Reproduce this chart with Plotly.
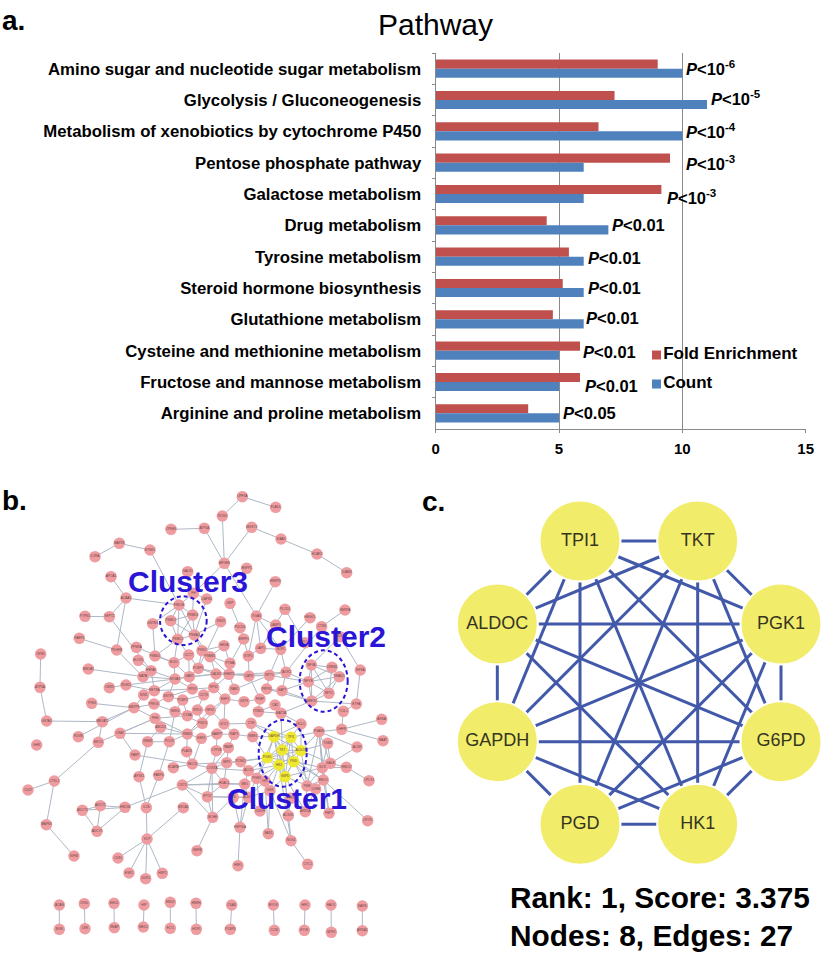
import plotly.graph_objects as go

# ---------- panel a ----------
PATHWAYS = ["Amino sugar and nucleotide sugar metabolism", "Glycolysis / Gluconeogenesis",
            "Metabolism of xenobiotics by cytochrome P450", "Pentose phosphate pathway",
            "Galactose metabolism", "Drug metabolism", "Tyrosine metabolism",
            "Steroid hormone biosynthesis", "Glutathione metabolism",
            "Cysteine and methionine metabolism", "Fructose and mannose metabolism",
            "Arginine and proline metabolism"]
FOLD_ENRICHMENT = [9.0, 7.25, 6.6, 9.5, 9.15, 4.5, 5.4, 5.15, 4.75, 5.85, 5.85, 3.75]
COUNT = [10, 11, 10, 6, 6, 7, 6, 6, 6, 5, 5, 5]
P_LABELS = ["10<sup>-6</sup>", "10<sup>-5</sup>", "10<sup>-4</sup>", "10<sup>-3</sup>", "10<sup>-3</sup>",
            "0.01", "0.01", "0.01", "0.01", "0.01", "0.01", "0.05"]
P_X = [10.08, 11.08, 10.08, 10.08, 9.28, 7.08, 6.08, 6.08, 6.03, 5.88, 5.98, 5.08]
P_SHIFT = [1, 2, 0, 0, -3, 0, -1, 0, 1, -1, -4, 0]
LEGEND_NAMES = ["Fold Enrichment", "Count"]

# ---------- panel c ----------
C_LABELS = ["TPI1", "TKT", "PGK1", "G6PD", "HK1", "PGD", "GAPDH", "ALDOC"]
C_X = [480, 833, 1083, 1083, 833, 480, 232, 232]
C_Y = [183, 183, 432, 785, 1033, 1033, 785, 432]
C_EDGES = [("TPI1", "TKT"), ("TKT", "PGK1"), ("PGK1", "G6PD"), ("G6PD", "HK1"), ("HK1", "PGD"),
           ("PGD", "GAPDH"), ("GAPDH", "ALDOC"), ("ALDOC", "TPI1"),
           ("TPI1", "PGK1"), ("TKT", "G6PD"), ("PGK1", "HK1"), ("G6PD", "PGD"), ("HK1", "GAPDH"),
           ("GAPDH", "TPI1"), ("ALDOC", "TKT"),
           ("TPI1", "G6PD"), ("TKT", "HK1"), ("PGK1", "PGD"), ("G6PD", "GAPDH"), ("HK1", "ALDOC"),
           ("PGD", "TPI1"), ("GAPDH", "TKT"), ("ALDOC", "PGK1"),
           ("TPI1", "HK1"), ("TKT", "PGD"), ("PGK1", "GAPDH"), ("G6PD", "ALDOC")]

# ---------- panel b: node layout ----------
OUTER_NODES = [("UPF3A",727,50),("FLAD1",827,82),("RCN3",667,108),("CPNE3",513,148),("ATP1A",613,145),
 ("MGST2",755,142),("KIAA1",843,177),("HCAR2",951,222),("ICAM4",1040,278),("MFGE8",673,250),("ENPP1",740,265),
 ("MAP2K",358,190),("ETNK1",450,210),("IL2RA",285,230),("GALK1",563,275),("APOA1",333,290),("HNRPD",826,305),
 ("ACAA1",378,354),("FH",580,340),("CAPN1",620,357),("GRP",690,370),("PTPN1",255,409),("SEPT2",328,410),
 ("ITGA6",769,408),("PLOD1",855,388),("HMGCL",930,413),("SNRPA",1035,390),("CTSS",965,440),("GSTM1",458,431),
 ("SNX3",662,425),("PDCD6",720,443),("LAMP1",827,435),("FABP5",238,475),("MYO1",915,488),("DDX1",1020,470)]
CORE_NODES = [("BRPF1",731,477),("HEXA",672,497),("UAP1",782,505),("NCF1",842,508),("PDGFB",350,510),("PPM1A",409,502),
 ("UPB1",122,522),("PSMD1",465,528),("ELOVL",415,541),("CCT7",566,525),("PKN2",606,512),("PSMB1",630,530),
 ("STIP1",745,528),("ELK1",522,548),("PTMA",690,550),("MBOAT",265,567),("HSPA5",453,572),("PCBP1",595,565),
 ("NAPA",429,590),("NOVA1",525,597),("GART",568,590),("CALM1",648,582),("SHMT2",687,583),("CAPZ",747,588),
 ("NPT1",808,586),("TAOK1",858,577),("EIF3A",1081,570),("RDH11",378,615),("ATP5A",120,622),("CBR3",328,623),
 ("RETSA",463,632),("RPS3",577,627),("RPS2",641,623),("RAB5",703,628),("PRPS1",800,627),("GAPT",846,632),
 ("NIN1",431,645),("GSTP1",505,650),("CCT8",611,645),("TPM4",275,670),("MBTPS",402,683),("PRKG1",462,672),
 ("PCBP2",548,660),("EEF1",675,657),("GSTK",732,665),("FKBP",780,657),("CA2",825,675),("ETFA",1069,672),
 ("NEK6",525,695),("RPL5",592,690),("NFS1",631,690),("TXNDC",775,695),("MAT2A",843,700),("TCIL1",1030,694),("CYBA",562,707)]
CLUSTER3_NODES = [("FNK2B",537,375),("PSMD4",578,405),("PSMC2",512,422),("PSMA3",583,465),("PSMC5",533,478)]
CLUSTER2_NODES = [("NFYA",934,555),("CREB1",996,562),("SMAD1",1018,590),("NFYB",925,605),("NFYC",987,640),("MEF2C",935,663)]
LOWER_Y_OFFSET = 690
LOWER_NODES = [("GSTA1",140,33),("MBOAT2",307,35),("PHB",465,25),("ARSA",1145,28),("GHR",110,105),("RUVB",235,80),
 ("CRAT",360,70),("ERO1",295,97),("ABCD3",482,52),("PGD3",607,40),("GOLT",672,42),("CTH",753,40),("GCLC",903,42),
 ("PGAM1",957,65),("DHFR",1025,58),("BAAT",1149,92),("RBM3",443,95),("POLR",508,95),("RBM4",562,72),("EEF2",604,85),
 ("NAMPT",651,72),("RAP1",702,73),("NME1",758,80),("TGM2",983,100),("ALDH",1071,111),("PARP",405,135),("PAMP",685,113),
 ("CYP2B",649,122),("PLA2G",560,125),("SEC11",577,162),("IMP1",680,158),("PCSK2",722,155),("SCARB",520,173),
 ("COX7A",636,175),("ACO1",745,182),("GCK",967,173),("GALE",991,160),("HSD17",1039,172),("CPLX1",1107,212),
 ("ENO1",970,210),("AP3S1",417,200),("FABP4",476,196),("PGM1",770,205),("GPI",795,213),("CTSL1",163,213),("CD47",84,240),
 ("CST3",547,225),("HDAC1",672,220),("ME1",734,222),("GSR",810,242),("PKM",921,228),("LDHB",947,237),("IFT57",622,260),
 ("ALDOA",745,262),("CS",700,262),("PFKP",872,265),("BRCA1",550,293),("ADCY2",301,287),("HSD3B",375,292),("ADCY3",247,301),
 ("IL1B",439,293),("BCHE",638,322),("UGDH",780,303),("ACSS1",865,317),("AKR1A",916,305),("FBP1",987,310),("DPYD",1103,332),
 ("MAPK8",139,344),("ADCY5",291,364),("HSP90A",720,352),("SAR1",805,371),("NOX4",873,392),("VCP",441,387),("KIFIB",222,438),
 ("CD81",354,444),("GMFB",591,422),("CYC1",923,463),("HSF1",714,467),("ESR1",387,489),("HSP2",487,490),("DDR1",437,506)]
YELLOW_NODES = [("GAPDH",822,80),("TPI1",873,82),("TKT",847,120),("ALDOC",903,122),("PGK1",802,143),("HK1",837,165),("PGD",881,155),("G6PD",855,200)]
PAIR_NODES = [("ACAN",178,585,"BGN",178,658),("CRKL",253,581,"CRK",255,656),("EHD1",342,580,"SNAP",343,653),
 ("HIP",432,585,"MED1",430,651),("HSD2",511,577,"FLT1",511,655),("HNRH",588,580,"HCF1",589,658),
 ("CSAD",695,585,"PCBP4",691,658),("MYO6",820,585,"CCNI",823,661),("HIF1",915,585,"ETV6",913,661),
 ("HAO1",993,585,"MTF2",994,667),("KARS",1087,588,"ARSA2",1087,662)]

OUTER_EDGES = """UPF3A-FLAD1 UPF3A-RCN3 RCN3-MFGE8 CPNE3-ATP1A ATP1A-MFGE8 MGST2-MFGE8 MGST2-KIAA1 KIAA1-HCAR2 HCAR2-ICAM4
MAP2K-ETNK1 MAP2K-IL2RA ETNK1-FNK2B APOA1-ACAA1 ACAA1-SEPT2 SEPT2-PTPN1 ACAA1-FNK2B ACAA1-PDGFB MFGE8-ITGA6 MFGE8-FH FH-CAPN1
HNRPD-ITGA6 ITGA6-UAP1 ITGA6-STIP1 ITGA6-NCF1 PLOD1-UAP1 PLOD1-MYO1 SNRPA-CTSS CTSS-TAOK1 HMGCL-NCF1 GRP-PDCD6 BRPF1-PDCD6 BRPF1-PTMA
LAMP1-UAP1 LAMP1-ITGA6 FABP5-PDGFB SNX3-PCBP1 SNX3-PSMA3 CAPN1-PSMA3 GSTM1-PSMD1 GSTM1-FNK2B SEPT2-HSPA5 PDGFB-NAPA
PPM1A-ELK1 UPB1-ATP5A ATP5A-GSTA1 GSTA1-MBOAT2 MBOAT2-MBTPS MBOAT2-ERO1 ERO1-CTSL1 CTSL1-CD47 CTSL1-MAPK8 MAPK8-KIFIB RUVB-MBTPS
DDX1-NFYA DDX1-EIF3A EIF3A-ETFA ETFA-MEF2C ETFA-TCIL1 TCIL1-DHFR ARSA-DHFR DHFR-BAAT DHFR-PGAM1"""
CORE_EDGES = """PSMC5-ELK1 PSMC5-CCT7 PSMC5-PSMD1 PSMA3-PSMB1 PSMA3-PKN2 PSMD1-ELK1 ELOVL-HSPA5 MBOAT-NAPA NAPA-NOVA1 NAPA-HSPA5
HSPA5-NOVA1 HSPA5-RETSA ELK1-NOVA1 ELK1-GART NOVA1-GART NOVA1-RETSA NOVA1-RPS3 NOVA1-GSTP1 NOVA1-CALM1 GART-CALM1 GART-RPS3 GART-PCBP1
PCBP1-CALM1 PCBP1-SHMT2 CALM1-SHMT2 CALM1-RPS2 SHMT2-RPS2 SHMT2-RAB5 SHMT2-CAPZ SHMT2-NPT1 SHMT2-PTMA PTMA-PSMB1 PTMA-HEXA HEXA-PSMB1
HEXA-PKN2 PKN2-PCBP1 PSMB1-CALM1 PSMB1-SHMT2 CCT7-GART CCT7-PCBP1 CCT7-ELK1 CAPZ-STIP1 STIP1-BRPF1 STIP1-UAP1 UAP1-NCF1 NCF1-TAOK1
NCF1-NPT1 TAOK1-NPT1 NPT1-CAPZ TAOK1-NFYB TAOK1-SHMT2 NPT1-RAB5 CAPZ-FKBP NPT1-PRPS1 PRPS1-GAPT GAPT-TAOK1 GAPT-MEF2C GAPT-NFYB
RETSA-RPS3 RETSA-NIN1 RDH11-CBR3 RDH11-RETSA RDH11-NOVA1 NIN1-MBTPS PRKG1-MBTPS PRKG1-GSTP1 PRKG1-NEK6 TPM4-MBTPS GSTP1-PCBP2 GSTP1-RPS3
RPS3-RPS2 RPS2-EEF1 RPS2-CCT8 CCT8-RPL5 CCT8-PCBP2 PCBP2-NEK6 PCBP2-CYBA NEK6-CYBA CYBA-RPL5 RPL5-NFS1 NFS1-EEF1 EEF1-RAB5 EEF1-GSTK
GSTK-FKBP FKBP-TXNDC TXNDC-CA2 CA2-MAT2A MAT2A-TXNDC MAT2A-TKT MAT2A-GCLC MAT2A-MEF2C NFYB-NPT1 MEF2C-PRPS1 EEF1-PGD3 EEF1-GOLT GOLT-NFS1 GOLT-RAP1
PGD3-NEK6 PGD3-RPL5 PGD3-RBM4 RBM4-EEF2 RBM4-POLR RBM4-ABCD3 RBM4-PHB RBM4-NFS1 EEF2-NAMPT NAMPT-RAP1 RAP1-NME1 NME1-CTH CTH-GOLT PHB-ABCD3
ABCD3-RBM3 RBM3-POLR POLR-NEK6 PLA2G-RBM4 PLA2G-SEC11 SEC11-EEF2 SEC11-IMP1 IMP1-PCSK2 PAMP-IMP1 PAMP-COX7A PAMP-RAP1 CYP2B-NAMPT CYP2B-COX7A
COX7A-SEC11 COX7A-IMP1 COX7A-ACO1 PCSK2-ACO1 ACO1-ME1 ACO1-PGM1 ME1-PGM1 ME1-ALDOA PGM1-GSR GSR-GPI GSR-ALDOA GSR-SAR1 GPI-ALDOA CS-ALDOA
IFT57-HDAC1 HDAC1-ME1 IFT57-COX7A IMP1-HDAC1 NOX4-GSR ACSS1-PFKP UGDH-ALDOA AKR1A-PKM AKR1A-LDHB LDHB-PKM PKM-GCK ENO1-GCK ENO1-PKM ENO1-LDHB
GCK-GALE GALE-HSD17 GALE-TGM2 CYBA-PHB MBTPS-PHB CRAT-PHB CRAT-RBM4 CRAT-PARP ERO1-PHB PARP-SEC11 RBM3-AP3S1 AP3S1-IL1B FABP4-IL1B FABP4-POLR
IL1B-VCP VCP-BRCA1 VCP-CD81 VCP-ESR1 VCP-HSP2 VCP-DDR1 ADCY3-ADCY2 ADCY3-ADCY5 ADCY2-ADCY5 ADCY2-HSD3B ADCY3-HSD3B ADCY5-HSD3B HSD3B-CST3
BCHE-GMFB BCHE-IFT57 BCHE-COX7A BCHE-CST3 BCHE-CS HSP90A-HSF1 HSP90A-ME1 HSP90A-CS HSP90A-ALDOA HDAC1-COX7A HDAC1-CST3 ME1-CST3 CST3-IFT57 CST3-COX7A
IFT57-CS IFT57-ALDOA UGDH-PGM1 SAR1-GPI NOX4-CYC1 NOX4-G6PD NOX4-HK1 ACSS1-G6PD AKR1A-G6PD FBP1-ENO1 FBP1-PGAM1 DPYD-ENO1 CPLX1-HSD17 HSD17-GCK ALDH-GALE
ALDH-PGAM1 SCARB-SEC11"""
CORE_TO_YELLOW = """PGAM1-TPI1 PGAM1-ALDOC PGAM1-GCK PGAM1-GALE PGAM1-ENO1 PGAM1-PKM GCK-G6PD GCK-PGD GALE-ALDOC ENO1-TKT ENO1-PGD PKM-PGD PKM-ALDOC
LDHB-G6PD LDHB-PGD NME1-GAPDH NME1-PGK1 CTH-GAPDH CTH-TPI1 GCLC-TPI1 GCLC-ALDOC GCLC-GAPDH ACO1-PGK1 ACO1-HK1 PGM1-PGK1 PGM1-HK1 GPI-HK1 GSR-G6PD
GSR-HK1 TGM2-ALDOC TGM2-GCK PCSK2-PGK1 IMP1-PGK1 ALDOA-GAPDH"""
CLUSTER_EDGES = """FNK2B-PSMD4 FNK2B-PSMC2 FNK2B-PSMA3 FNK2B-PSMC5 PSMD4-PSMC2 PSMD4-PSMA3 PSMD4-PSMC5 PSMC2-PSMA3 PSMC2-PSMC5 PSMA3-PSMC5 FH-PSMD4 FH-FNK2B
NFYA-CREB1 NFYA-SMAD1 NFYA-NFYB NFYA-NFYC NFYA-MEF2C CREB1-SMAD1 CREB1-NFYB CREB1-NFYC SMAD1-NFYB SMAD1-NFYC SMAD1-MEF2C NFYB-NFYC NFYB-MEF2C NFYC-MEF2C"""

PX_W, PX_H = 827, 956
RED, BLUE = "#C0504D", "#4F81BD"
GRID = "#8A8A8A"
FONT = "Liberation Sans"
PINK, YELLOW_B, EDGE_B = "#EE9CA0", "#EEE82E", "#AEB8C6"
YELLOW_C, EDGE_C = "#F2EC6B", "#4259A9"
INK = "#2A14D6"

def dx(px): return px / PX_W
def dy(px): return 1 - px / PX_H
BOLD = dict(family=FONT, color="black", weight=700)

fig = go.Figure()

# --- bars ---
fig.add_trace(go.Bar(y=PATHWAYS, x=FOLD_ENRICHMENT, orientation="h", name=LEGEND_NAMES[0],
                     marker=dict(color=RED, line_width=0), showlegend=False))
fig.add_trace(go.Bar(y=PATHWAYS, x=COUNT, orientation="h", name=LEGEND_NAMES[1],
                     marker=dict(color=BLUE, line_width=0), showlegend=False))

# --- legend key of the bar chart (small squares right beside the words) ---
for name, col, ky in zip(LEGEND_NAMES, (RED, BLUE), (355, 384)):
    fig.add_trace(go.Scatter(x=[656.5], y=[ky], mode="markers+text", text=[name], textposition="middle right",
                             textfont=dict(size=17, **BOLD), marker=dict(symbol="square", size=9, color=col),
                             showlegend=False, hoverinfo="skip", xaxis="x4", yaxis="y4"))

# --- panel b network ---
coords = {}
for group in (OUTER_NODES, CORE_NODES, CLUSTER3_NODES, CLUSTER2_NODES):
    for name, x, y in group:
        coords[name] = (x, y)
for group in (LOWER_NODES, YELLOW_NODES):
    for name, x, y in group:
        coords[name] = (x, y + LOWER_Y_OFFSET)
pair_edges = []
for a, ax_, ay_, b, bx_, by_ in PAIR_NODES:
    coords[a] = (ax_, ay_ + LOWER_Y_OFFSET)
    coords[b] = (bx_, by_ + LOWER_Y_OFFSET)
    pair_edges.append((a, b))

b_edges = []
for block in (OUTER_EDGES, CORE_EDGES, CORE_TO_YELLOW, CLUSTER_EDGES):
    b_edges += [tuple(e.split("-")) for e in block.split()]
b_edges += pair_edges + C_EDGES

ex, ey = [], []
for a, b in b_edges:
    ex += [coords[a][0], coords[b][0], None]
    ey += [coords[a][1], coords[b][1], None]
fig.add_trace(go.Scatter(x=ex, y=ey, mode="lines", line=dict(color=EDGE_B, width=1),
                         hoverinfo="skip", showlegend=False, xaxis="x2", yaxis="y2"))
yellow = {n for n, _, _ in YELLOW_NODES}
pink = [n for n in coords if n not in yellow]
for names, col in ((pink, PINK), (sorted(yellow), YELLOW_B)):
    fig.add_trace(go.Scatter(x=[coords[n][0] for n in names], y=[coords[n][1] for n in names],
                             mode="markers+text", text=names, textposition="middle center",
                             textfont=dict(size=3.2, color="#6A4545", family=FONT),
                             marker=dict(size=11.5, color=col, line_width=0),
                             showlegend=False, xaxis="x2", yaxis="y2"))

# --- panel c network ---
pos_c = dict(zip(C_LABELS, zip(C_X, C_Y)))
ex, ey = [], []
for a, b in C_EDGES:
    ex += [pos_c[a][0], pos_c[b][0], None]
    ey += [pos_c[a][1], pos_c[b][1], None]
fig.add_trace(go.Scatter(x=ex, y=ey, mode="lines", line=dict(color=EDGE_C, width=3),
                         hoverinfo="skip", showlegend=False, xaxis="x3", yaxis="y3"))
fig.add_trace(go.Scatter(x=C_X, y=C_Y, mode="markers+text", text=C_LABELS, textposition="middle center",
                         textfont=dict(size=18, color="#35351F", family=FONT),
                         marker=dict(size=81, color=YELLOW_C, line=dict(color="white", width=2)),
                         showlegend=False, xaxis="x3", yaxis="y3"))

ann = []
for cat, x, lab, s in zip(PATHWAYS, P_X, P_LABELS, P_SHIFT):
    ann.append(dict(x=x, y=cat, xref="x", yref="y", yshift=s, xanchor="left", yanchor="middle", showarrow=False,
                    text=f"<i>P</i>&lt;{lab}", font=dict(size=16.5, **BOLD)))
for txt, px, py in (("a.", 0, 20), ("b.", 0, 501), ("c.", 420, 502)):
    ann.append(dict(x=dx(px), y=dy(py), xref="paper", yref="paper", xanchor="left", yanchor="middle", showarrow=False,
                    text=txt, font=dict(size=28, **BOLD)))
for txt, x, y in (("Cluster3", 564, 303), ("Cluster2", 977, 470), ("Cluster1", 862, 955)):
    ann.append(dict(x=x, y=y, xref="x2", yref="y2", showarrow=False, text=txt,
                    font=dict(size=30, family=FONT, color=INK, weight=700)))
for txt, py in (("Rank: 1, Score: 3.375", 897), ("Nodes: 8, Edges: 27", 935)):
    ann.append(dict(x=dx(508), y=dy(py), xref="paper", yref="paper", xanchor="left", yanchor="middle", showarrow=False,
                    text=txt, font=dict(size=29.8, **BOLD)))

shapes = []
for cx, cy, rx, ry in ((550, 422, 70, 73), (971, 603, 72, 92), (848, 820, 72, 100)):
    shapes.append(dict(type="circle", xref="x2", yref="y2", x0=cx - rx, x1=cx + rx, y0=cy - ry, y1=cy + ry,
                       line=dict(color=INK, width=2, dash="4px,3px"), layer="above"))

hidden = dict(visible=False, fixedrange=True)
fig.update_layout(
    width=PX_W, height=PX_H, margin=dict(l=0, r=0, t=0, b=0), autosize=False,
    paper_bgcolor="white", plot_bgcolor="rgba(0,0,0,0)", showlegend=False,
    font=dict(family=FONT, color="black"),
    title=dict(text="Pathway", x=dx(435.5), xanchor="center", y=dy(24.5), yanchor="middle",
               font=dict(size=30, family=FONT, color="black")),
    barmode="group", bargap=0.42, bargroupgap=0,
    xaxis=dict(domain=[dx(435.7), dx(805.7)], range=[0, 15], tickvals=[0, 5, 10, 15], anchor="y", automargin=False,
               showgrid=True, gridcolor=GRID, gridwidth=1.2, zeroline=False, showline=True, linecolor=GRID,
               linewidth=1.2, ticks="outside", ticklen=3, tickcolor=GRID, ticklabelstandoff=3,
               tickfont=dict(size=15, **BOLD)),
    yaxis=dict(domain=[dy(429), dy(53)], autorange="reversed", type="category", tickson="boundaries", anchor="x",
               automargin=False, showline=True, linecolor=GRID, linewidth=1.2, ticks="outside", ticklen=3,
               tickcolor=GRID, ticklabelstandoff=10, tickfont=dict(size=16.75, **BOLD), showgrid=False),
    xaxis2=dict(domain=[0, dx(420)], range=[0, 1260], anchor="y2", **hidden),
    yaxis2=dict(domain=[0, dy(480)], range=[1428, 0], anchor="x2", **hidden),
    xaxis3=dict(domain=[dx(420), 1], range=[0, 1221], anchor="y3", **hidden),
    yaxis3=dict(domain=[0, dy(480)], range=[1428, 0], anchor="x3", **hidden),
    xaxis4=dict(domain=[0, 1], range=[0, PX_W], anchor="y4", **hidden),
    yaxis4=dict(domain=[0, 1], range=[PX_H, 0], anchor="x4", **hidden),
    annotations=ann, shapes=shapes,
)

fig.write_html("out.html", config={"displayModeBar": False},
               post_script="document.body.style.margin='0';document.documentElement.style.overflow='hidden';")
